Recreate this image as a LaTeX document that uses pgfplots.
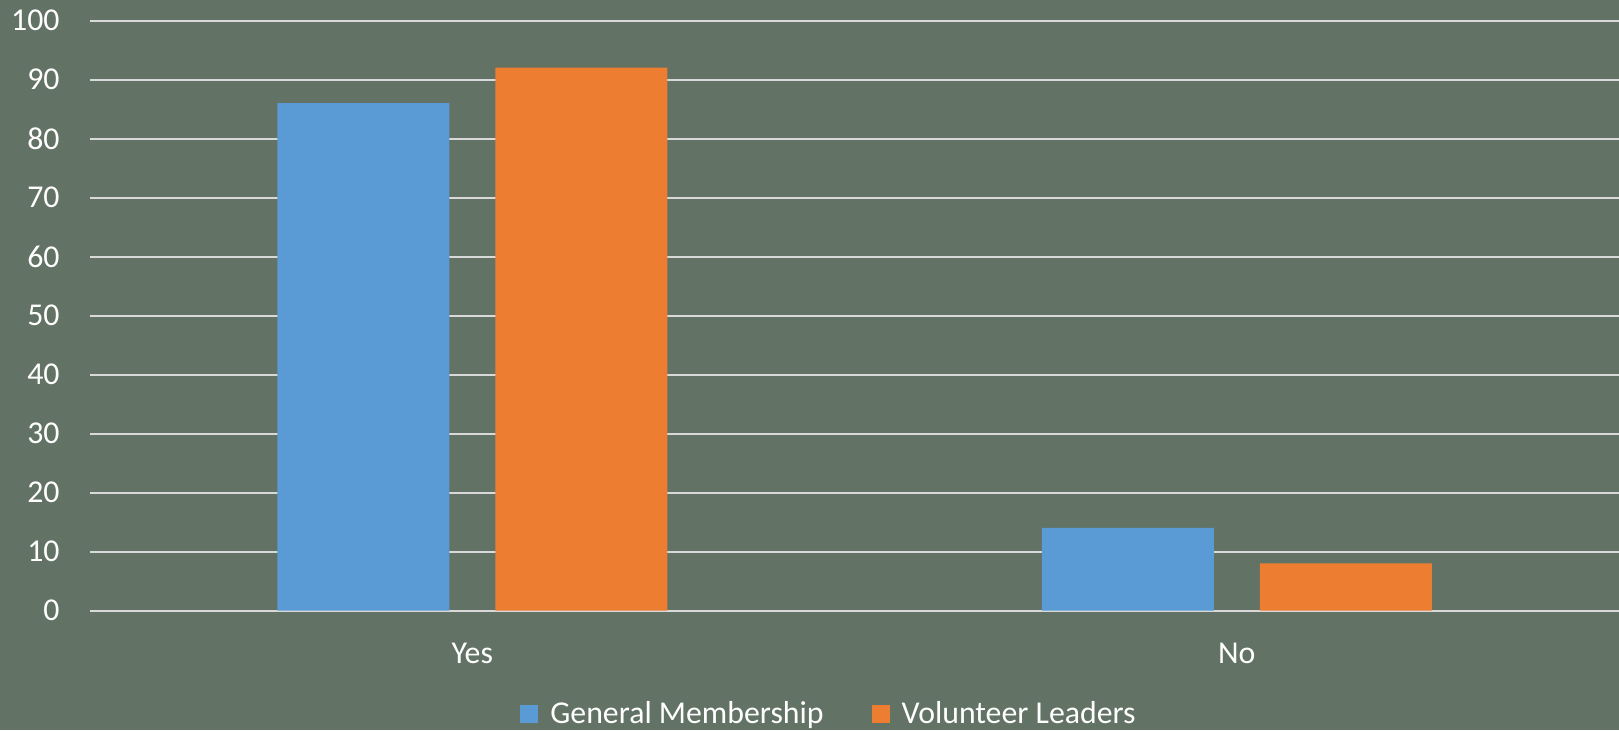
\documentclass[border=0pt]{standalone}
\usepackage{pgfplots}
\pgfplotsset{compat=1.18}
\usepackage{fontspec}
\setmainfont{Carlito}
\definecolor{bg}{HTML}{627264}
\definecolor{gm}{HTML}{5B9BD5}
\definecolor{vl}{HTML}{ED7D31}
\definecolor{gridc}{HTML}{D9D9D9}
\begin{document}
\begin{tikzpicture}
\useasboundingbox (0,0) rectangle (809.5pt,365pt);
\fill[bg] (0,0) rectangle (809.5pt,365pt);
\begin{axis}[
    at={(45pt,59.75pt)}, anchor=south west,
    scale only axis,
    width=764.5pt, height=295pt,
    ybar=23pt, bar width=86pt,
    xmin=-0.5, xmax=1.5,
    ymin=0, ymax=100,
    xtick=data, xticklabels={Yes,No},
    ytick={0,10,...,100},
    major tick length=0pt,
    axis line style={draw=none},
    ymajorgrids, grid style={gridc, line width=1pt},
    font=\fontsize{15.9pt}{18pt}\selectfont,
    tick label style={white},
    /pgf/number format/assume math mode=true,
    yticklabel style={anchor=east, inner sep=0pt, xshift=-15pt},
    xticklabel style={anchor=base, inner sep=0pt, yshift=-26.25pt},
    legend style={at={(0.484,-0.175)}, anchor=center, draw=none, fill=none,
        text=white, font=\fontsize{15.9pt}{18pt}\selectfont,
        legend columns=2,
        /tikz/every even column/.append style={column sep=22pt},
        /tikz/every odd column/.append style={column sep=4pt}},
    legend image code/.code={\fill[#1,draw=none] (0pt,-4.5pt) rectangle (9pt,4.5pt);},
]
\addplot[fill=gm, draw=none] coordinates {(0,86) (1,14)};
\addplot[fill=vl, draw=none] coordinates {(0,92) (1,8)};
\legend{General Membership, Volunteer Leaders}
\end{axis}
\end{tikzpicture}
\end{document}
